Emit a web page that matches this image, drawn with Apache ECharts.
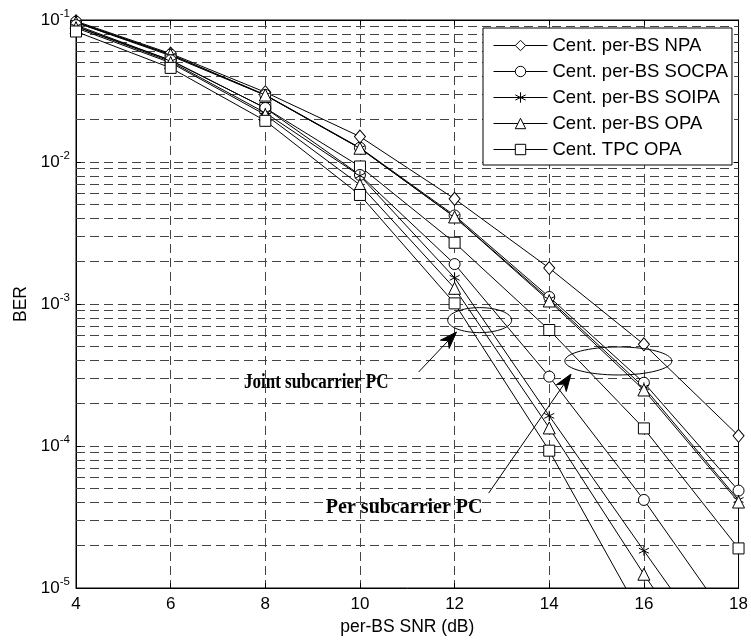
<!DOCTYPE html>
<html>
<head>
<meta charset="utf-8">
<script src="https://cdn.jsdelivr.net/npm/echarts@6/dist/echarts.min.js"></script>
<style>
html,body{margin:0;padding:0;background:#fff;}
#chart{width:751px;height:642px;}
</style>
</head>
<body>
<div id="chart"></div>
<script>
// ---- data ----
const snr = [4, 6, 8, 10, 12, 14, 16, 18];
const xTicks = [4, 6, 8, 10, 12, 14, 16, 18];
const yTickExponents = [-1, -2, -3, -4, -5];

// per subcarrier power control
const npa        = [0.098, 0.058, 0.031, 0.0151, 0.0055, 0.00179, 0.00052, 0.000118];
const socpaPer   = [0.097, 0.057, 0.0297, 0.0126, 0.0042, 0.00112, 0.000279, 0.0000485];
const soipaPer   = [0.096, 0.056, 0.0295, 0.0125, 0.0041, 0.00108, 0.000259, 0.0000417];
const opaPer     = [0.096, 0.057, 0.0296, 0.0125, 0.0041, 0.00105, 0.000248, 0.0000403];
const tpcPer     = [0.090, 0.052, 0.024, 0.0093, 0.0027, 0.000656, 0.000133, 0.000019];
// joint subcarrier power control
const socpaJoint = [0.092, 0.052, 0.024, 0.0081, 0.00191, 0.000308, 0.0000417, 0.0000047];
const soipaJoint = [0.090, 0.051, 0.0222, 0.0080, 0.00153, 0.000163, 0.0000183, 0.0000021];
const opaJoint   = [0.088, 0.050, 0.0215, 0.0069, 0.00129, 0.000134, 0.0000125, 0.0000013];
const tpcJoint   = [0.083, 0.046, 0.0195, 0.00586, 0.00101, 0.0000927, 0.0000059, 0.0000004];

const legendNames = ['Cent. per-BS NPA', 'Cent. per-BS SOCPA', 'Cent. per-BS SOIPA', 'Cent. per-BS OPA', 'Cent. TPC OPA'];

// minor log grid values (2..9 x each decade)
const minorGrid = [];
for (let e = -5; e < -1; e++) for (let m = 2; m <= 9; m++) minorGrid.push(m * Math.pow(10, e));

// annotation anchors in data space [snr, ber]
const ellipseJoint = {center: [12.53, 7.7e-4], rx: 32, ry: 12.5};
const ellipsePer   = {center: [15.46, 3.97e-4], rx: 53.5, ry: 14};
const arrowJoint = {from: [11.24, 3.32e-4], to: [12.04, 6.35e-4]};
const arrowPer   = {from: [12.72, 4.66e-5], to: [14.46, 3.21e-4]};
const textJoint = {text: 'Joint subcarrier PC', at: [7.55, 2.8e-4], size: 20, sx: 0.85};
const textPer   = {text: 'Per subcarrier PC', at: [9.28, 3.66e-5], size: 20, sx: 1};

// ---- chart ----
const chart = echarts.init(document.getElementById('chart'), null, {renderer: 'canvas'});
const FONT = 'Liberation Sans, Arial, Helvetica, sans-serif';

const star = 'path://M0,-10L0,10M-8.66,-5L8.66,5M-8.66,5L8.66,-5';
const sym = {
  npa: {symbol: 'diamond', size: [11, 13]},
  socpa: {symbol: 'circle', size: 11},
  soipa: {symbol: star, size: 10},
  opa: {symbol: 'triangle', size: 12},
  tpc: {symbol: 'rect', size: 11}
};

function mkSeries(name, data, s, extra) {
  return Object.assign({
    type: 'line',
    name: name,
    data: snr.map((x, i) => [x, data[i]]),
    symbol: s.symbol,
    symbolSize: s.size,
    showAllSymbol: true,
    clip: true,
    lineStyle: {color: '#000', width: 1},
    itemStyle: {color: '#fff', borderColor: '#000', borderWidth: 1},
    emphasis: {disabled: true},
    z: 3
  }, extra || {});
}

const series = [
  mkSeries(legendNames[0], npa, sym.npa, {
    markLine: {
      silent: true, symbol: ['none', 'none'], label: {show: false},
      precision: 12,
      animation: false,
      lineStyle: {color: '#444', type: [9, 5], width: 1},
      data: minorGrid.map(v => ({yAxis: v})),
      z: 1
    }
  }),
  mkSeries(legendNames[1], socpaPer, sym.socpa),
  mkSeries(legendNames[2], soipaPer, sym.soipa),
  mkSeries(legendNames[3], opaPer, sym.opa),
  mkSeries(legendNames[4], tpcPer, sym.tpc),
  mkSeries(legendNames[1], socpaJoint, sym.socpa),
  mkSeries(legendNames[2], soipaJoint, sym.soipa),
  mkSeries(legendNames[3], opaJoint, sym.opa),
  mkSeries(legendNames[4], tpcJoint, sym.tpc)
];

const splitStyle = {show: true, lineStyle: {color: '#444', type: [9, 5], width: 1}};

const option = {
  animation: false,
  backgroundColor: '#fff',
  grid: {left: 76, right: 10, top: 20, bottom: 54, show: true, borderColor: '#000', borderWidth: 1},
  legend: {
    data: legendNames,
    orient: 'vertical',
    left: 483, top: 28,
    padding: [8, 4, 6, 10],
    itemWidth: 54, itemHeight: 13, itemGap: 7,
    backgroundColor: '#fff',
    borderColor: '#000', borderWidth: 1,
    lineStyle: {width: 1, color: '#000'},
    itemStyle: {color: '#fff', borderColor: '#000', borderWidth: 1},
    textStyle: {fontFamily: FONT, fontSize: 18.5, color: '#000'},
    selectedMode: false
  },
  xAxis: [{
    type: 'value', min: 4, max: 18, interval: 2,
    axisLine: {show: true, onZero: false, lineStyle: {color: '#000'}},
    axisTick: {show: true, inside: true, length: 5, lineStyle: {color: '#000'}},
    axisLabel: {color: '#000', fontFamily: FONT, fontSize: 17, margin: 8,
      formatter: v => xTicks.indexOf(v) >= 0 ? String(v) : ''},
    splitLine: splitStyle,
    name: 'per-BS SNR (dB)', nameLocation: 'middle', nameGap: 28,
    nameTextStyle: {color: '#000', fontFamily: FONT, fontSize: 17.5}
  }, {
    type: 'value', min: 4, max: 18, interval: 2, position: 'top',
    axisLine: {show: true, onZero: false, lineStyle: {color: '#000'}},
    axisTick: {show: true, inside: true, length: 5, lineStyle: {color: '#000'}},
    axisLabel: {show: false}, splitLine: {show: false}
  }],
  yAxis: [{
    type: 'log', logBase: 10, min: 1e-5, max: 1e-1,
    axisLine: {show: true, onZero: false, lineStyle: {color: '#000'}},
    axisTick: {show: true, inside: true, length: 5, lineStyle: {color: '#000'}},
    axisLabel: {
      color: '#000', margin: 6,
      formatter: v => {
        const e = Math.round(Math.log10(v));
        return yTickExponents.indexOf(e) >= 0 ? '{b|10}{s|' + e + '}' : '';
      },
      rich: {
        b: {fontFamily: FONT, fontSize: 17, color: '#000'},
        s: {fontFamily: FONT, fontSize: 11.5, color: '#000', padding: [0, 0, 12, 0]}
      }
    },
    splitLine: splitStyle,
    name: 'BER', nameLocation: 'middle', nameGap: 46,
    nameTextStyle: {color: '#000', fontFamily: FONT, fontSize: 17.5}
  }, {
    type: 'log', logBase: 10, min: 1e-5, max: 1e-1, position: 'right',
    axisLine: {show: true, onZero: false, lineStyle: {color: '#000'}},
    axisTick: {show: true, inside: true, length: 5, lineStyle: {color: '#000'}},
    axisLabel: {show: false}, splitLine: {show: false}
  }],
  series: series
};

chart.setOption(option);

// ---- annotations placed via the chart's own coordinate conversion ----
function px(p) { return chart.convertToPixel({xAxisIndex: 0, yAxisIndex: 0}, p); }

function arrowGraphics(a) {
  const f = px(a.from), t = px(a.to);
  const dx = t[0] - f[0], dy = t[1] - f[1];
  const len = Math.sqrt(dx * dx + dy * dy);
  const ux = dx / len, uy = dy / len;
  const nx = -uy, ny = ux;
  const L = 17, W = 6, N = 12;
  const back = [t[0] - ux * L, t[1] - uy * L];
  const notch = [t[0] - ux * N, t[1] - uy * N];
  return [
    {type: 'line', shape: {x1: f[0], y1: f[1], x2: notch[0], y2: notch[1]},
     style: {stroke: '#000', lineWidth: 1}, z: 10},
    {type: 'polygon', shape: {points: [t,
      [back[0] + nx * W, back[1] + ny * W], notch,
      [back[0] - nx * W, back[1] - ny * W]]},
     style: {fill: '#000', stroke: '#000', lineWidth: 1}, z: 10}
  ];
}
function ellipseGraphic(e) {
  const c = px(e.center);
  return {type: 'ellipse', shape: {cx: c[0], cy: c[1], rx: e.rx, ry: e.ry},
    style: {fill: 'none', stroke: '#000', lineWidth: 1}, z: 10};
}
function textGraphic(t) {
  const p = px(t.at);
  return {type: 'text', x: p[0], y: p[1], scaleX: t.sx,
    style: {text: t.text, fill: '#000', font: 'bold ' + t.size + 'px "Liberation Serif", "Times New Roman", serif',
      verticalAlign: 'middle', align: 'left'}, z: 10};
}

chart.setOption({
  graphic: [
    ellipseGraphic(ellipseJoint), ellipseGraphic(ellipsePer),
    ...arrowGraphics(arrowJoint), ...arrowGraphics(arrowPer),
    textGraphic(textJoint), textGraphic(textPer)
  ]
});
</script>
</body>
</html>
